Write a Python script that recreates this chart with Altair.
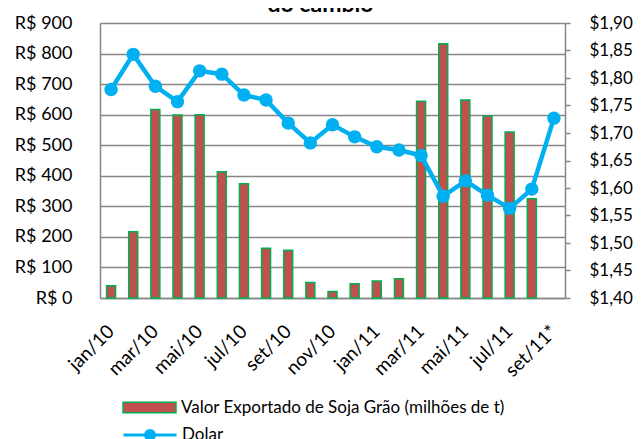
import altair as alt
import pandas as pd

months = ["jan/10", "fev/10", "mar/10", "abr/10", "mai/10", "jun/10", "jul/10",
          "ago/10", "set/10", "out/10", "nov/10", "dez/10", "jan/11", "fev/11",
          "mar/11", "abr/11", "mai/11", "jun/11", "jul/11", "ago/11", "set/11*"]
soja = [40, 217, 617, 599, 600, 413, 374, 163, 156, 51, 21, 47, 56, 63,
        644, 832, 648, 596, 543, 325, None]
dolar = [1.779, 1.843, 1.785, 1.757, 1.813, 1.807, 1.769, 1.760, 1.718, 1.682,
         1.715, 1.693, 1.675, 1.669, 1.659, 1.585, 1.613, 1.587, 1.563, 1.598, 1.727]
shown_labels = months[::2]
left_ticks = list(range(0, 901, 100))
right_ticks = [1.40, 1.45, 1.50, 1.55, 1.60, 1.65, 1.70, 1.75, 1.80, 1.85, 1.90]

bar_name = "Valor Exportado de Soja Grão (milhões de t)"
line_name = "Dolar"

df = pd.DataFrame({"mes": months, "soja": soja, "dolar": dolar,
                   "s1": bar_name, "s2": line_name})

FONT = "Lato"
GRAY = "#868686"

x = alt.X("mes:N", sort=months, title=None,
          scale=alt.Scale(paddingInner=0, paddingOuter=0),
          axis=alt.Axis(values=shown_labels, labelAngle=-45, labelAlign="right",
                        labelBaseline="middle", labelPadding=30, ticks=False,
                        domainColor=GRAY, domainWidth=1.5, labelFontSize=19,
                        labelColor="#000000", labelFont=FONT, grid=False,
                        labelOverlap=False))

y_right = alt.Y("dolar:Q", title=None,
                scale=alt.Scale(domain=[1.40, 1.90], nice=False, zero=False),
                axis=alt.Axis(orient="right", values=right_ticks,
                              labelExpr="'$' + replace(format(datum.value, '.2f'), '.', ',')",
                              grid=False, tickColor=GRAY, tickWidth=1.5, tickSize=5,
                              labelPadding=19, domainColor=GRAY, domainWidth=1.5,
                              labelOverlap=False,
                              labelFontSize=17, labelColor="#000000", labelFont=FONT))

bars = alt.Chart(df).mark_bar(size=9, stroke="#00B050", strokeWidth=1.5).encode(
    x=x,
    y=alt.Y("soja:Q", title=None,
            scale=alt.Scale(domain=[0, 900], nice=False),
            axis=alt.Axis(values=left_ticks, labelExpr="'R$ ' + datum.value",
                          ticks=False, labelPadding=28, domainColor=GRAY,
                          domainWidth=1.5, gridColor=GRAY, gridWidth=1.5,
                          labelOverlap=False,
                          labelFontSize=18, labelColor="#000000", labelFont=FONT)),
    fill=alt.Fill("s1:N", scale=alt.Scale(domain=[bar_name], range=["#C0504D"]),
                  legend=alt.Legend(title=None, orient="none", legendX=22, legendY=357,
                                    symbolType="M-1,-0.2H1V0.2H-1Z", symbolSize=2809,
                                    symbolStrokeColor="#00B050", symbolStrokeWidth=1.5,
                                    symbolFillColor="#C0504D", labelLimit=0,
                                    labelFontSize=17, labelFont=FONT, labelColor="#000000",
                                    labelOffset=4, padding=0)),
)

line = alt.Chart(df).mark_line(strokeWidth=4.5).encode(
    x=x,
    y=y_right,
    stroke=alt.Stroke("s2:N", scale=alt.Scale(domain=[line_name], range=["#00B0F0"]),
                      legend=alt.Legend(title=None, orient="none", legendX=22, legendY=384,
                                        symbolType="M-1,0H1M-0.17,0A0.17,0.17,0,1,1,0.17,0A0.17,0.17,0,1,1,-0.17,0Z",
                                        symbolSize=2809, symbolStrokeColor="#00B0F0",
                                        symbolFillColor="#00B0F0", symbolStrokeWidth=3,
                                        labelFontSize=17, labelFont=FONT, labelColor="#000000",
                                        labelOffset=4, padding=0)),
)

points = alt.Chart(df).mark_point(filled=True, size=180, color="#00B0F0", opacity=1).encode(
    x=x,
    y=y_right,
)

chart = alt.layer(bars, alt.layer(line, points)).resolve_scale(
    y="independent", fill="independent", stroke="independent"
).properties(
    width=465, height=275,
    title=alt.TitleParams("do cambio", fontSize=23, fontWeight="bold", font=FONT,
                          color="#000000", baseline="alphabetic", offset=0, dy=21, dx=-12),
    autosize=alt.AutoSizeParams(type="none"),
    padding={"left": 92, "top": 15, "right": 68, "bottom": 141},
).configure_view(stroke=None)

chart.save("out.html", embed_options={"renderer": "svg", "actions": False})
